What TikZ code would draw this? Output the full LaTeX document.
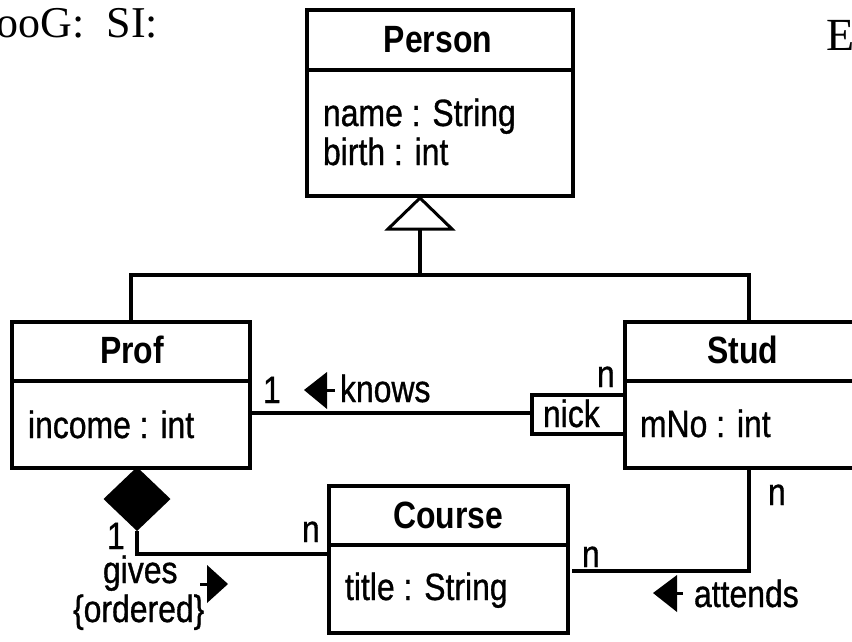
\documentclass[tikz,border=0pt]{standalone}
\usepackage{fontspec}
\setmainfont{Liberation Sans}[FakeStretch=0.84]
\newfontfamily\regfont{Liberation Sans}[FakeStretch=0.84, FakeBold=0.8]
\newfontfamily\serifhead{Liberation Serif}
\usetikzlibrary{shapes.geometric}
\begin{document}
\begin{tikzpicture}[x=1pt,y=-1pt,
  line width=3.6pt,
  box/.style={draw, line width=3.6pt, inner sep=0pt, outer sep=0pt, anchor=north west},
  txt/.style={inner sep=0pt, outer sep=0pt, font=\regfont\fontsize{38}{42}\selectfont},
  classname/.style={inner sep=0pt, outer sep=0pt, font=\fontsize{38}{42}\selectfont\bfseries, anchor=base},
  attr/.style={txt, anchor=base west},
  dirmark/.style={fill=black, draw=none},
]
\useasboundingbox (0,0) rectangle (852,641);
\clip (0,0) rectangle (852,641);

% heading fragments
\node[inner sep=0pt, anchor=base east, font=\serifhead\fontsize{44}{48}\selectfont] (headL) at (160,37) {ooG:\ \ SI:};
\node[inner sep=0pt, anchor=base west, font=\serifhead\fontsize{46}{50}\selectfont] (headR) at (825,50) {E};

% class Person
\node[box, minimum width=266pt, minimum height=60pt] (personH) at (307,10) {};
\node[box, minimum width=266pt, minimum height=126pt] (personA) at (307,70) {};
\node[classname] (personN) at (438,52) {Person};
\node[attr] (personA1) at (323,126) {name : String};
\node[attr] (personA2) at (323,165) {birth : int};

% class Prof
\node[box, minimum width=238pt, minimum height=59pt] (profH) at (12,322) {};
\node[box, minimum width=238pt, minimum height=87pt] (profA) at (12,381) {};
\node[classname] (profN) at (132,363) {Prof};
\node[attr] (profA1) at (28,438) {income : int};

% class Stud
\node[box, minimum width=248pt, minimum height=59pt] (studH) at (625,322) {};
\node[box, minimum width=248pt, minimum height=87pt] (studA) at (625,381) {};
\node[classname] (studN) at (743,363) {Stud};
\node[attr] (studA1) at (640,437) {mNo : int};

% qualifier
\node[box, minimum width=93pt, minimum height=39pt] (nick) at (532,395) {};
\node[attr] (nickT) at (543,427) {nick};

% class Course
\node[box, minimum width=239pt, minimum height=59pt] (courseH) at (329,486) {};
\node[box, minimum width=239pt, minimum height=88pt] (courseA) at (329,545) {};
\node[classname] (courseN) at (448,528) {Course};
\node[attr] (courseA1) at (345,600) {title : String};

% generalization
\coordinate (genTip) at (420,198);
\coordinate (genBase) at (420,229);
\coordinate (genJoin) at (420,275);
\draw[fill=white, line width=3pt] (genTip) -- (388,229) -- (452,229) -- cycle;
\draw (genBase) -- (genJoin);
\draw (profH.north) |- (genJoin) -| (studH.north);

% association knows
\coordinate (knowsL) at (250,413);
\draw (knowsL) -- (knowsL -| nick.west);
\node[attr] (knowsM1) at (263,403) {1};
\node[attr] (knowsMn) at (597,387) {n};
\node[attr] (knowsT) at (340,402) {knows};
\fill[dirmark] (304,390) -- (327,372) -- (327,409) -- cycle;
\draw[line width=3pt] (326,390) -- (335,390);

% composition gives
\node[diamond, fill=black, draw=none, inner sep=0pt, outer sep=0pt,
      minimum width=67pt, minimum height=64pt] (comp) at (137,499) {};
\coordinate (givesEnd) at (329,554);
\draw (comp.south) |- (givesEnd);
\node[attr] (givesM1) at (107,549) {1};
\node[attr] (givesMn) at (302,542) {n};
\node[attr] (givesT) at (103,583) {gives};
\node[attr] (givesO) at (73,622) {\{ordered\}};
\fill[dirmark] (228,584) -- (207,565) -- (207,603) -- cycle;
\draw[line width=3pt] (200,584) -- (208,584);

% association attends
\coordinate (attTop) at (749,468);
\coordinate (attEnd) at (572,571);
\draw (attTop) |- (attEnd);
\node[attr] (attMs) at (768,505) {n};
\node[attr] (attMc) at (582,567) {n};
\node[attr] (attT) at (694,607) {attends};
\fill[dirmark] (653,593) -- (677,575) -- (677,612) -- cycle;
\draw[line width=3pt] (676,593) -- (683,593);
\end{tikzpicture}
\end{document}
